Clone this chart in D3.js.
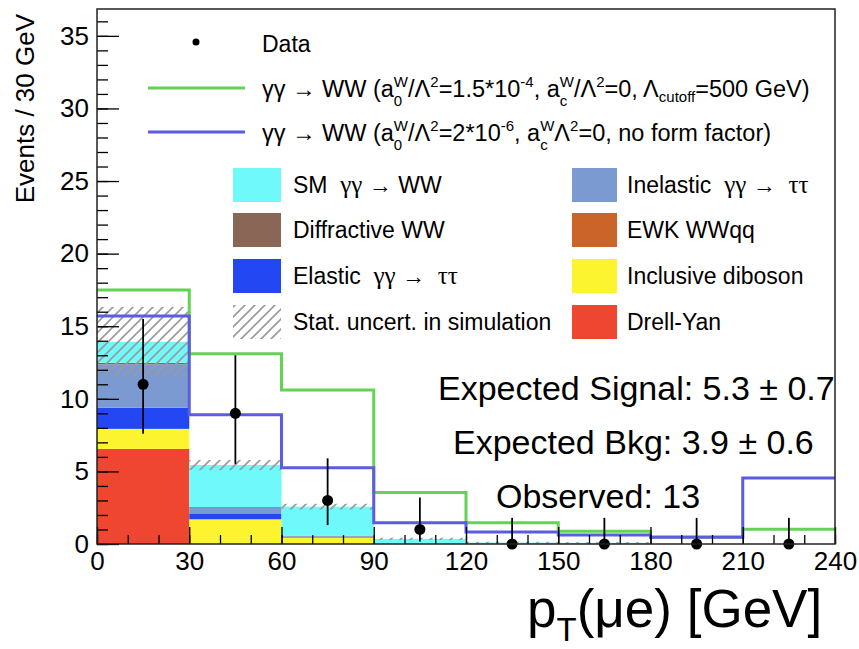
<!DOCTYPE html>
<html lang="en">
<head>
<meta charset="UTF-8">
<style>
  body { margin: 0; background: #fff; }
  text { font-family: "Liberation Sans", Arial, sans-serif; fill: #000; }
</style>
</head>
<body>
<script src="https://d3js.org/d3.v7.min.js"></script>
<script>
// bins of pT(mu e) in GeV
var binEdges = [0, 30, 60, 90, 120, 150, 180, 210, 240]
var xTickValues = [0, 30, 60, 90, 120, 150, 180, 210, 240]
var yTickValues = [0, 5, 10, 15, 20, 25, 30, 35]

// data points with error bar ends
var dataCounts = [11, 9, 3, 1, 0, 0, 0, 0]
var dataErrLow = [7.6, 5.5, 1.3, 0.17, 0, 0, 0, 0]
var dataErrHigh = [15.5, 13.0, 5.9, 3.2, 1.8, 1.8, 1.8, 1.8]

// stacked backgrounds, bottom to top
var drellYan = [6.55, 0, 0, 0, 0, 0, 0, 0]
var diboson = [1.38, 1.70, 0.45, 0, 0, 0, 0, 0]
var elasticTT = [1.45, 0.41, 0.05, 0, 0, 0, 0, 0]
var ewkWWqq = [0, 0, 0, 0, 0, 0, 0, 0]
var inelasticTT = [3.0, 0.39, 0.04, 0, 0, 0, 0, 0]
var diffractiveWW = [0.1, 0.05, 0.02, 0, 0, 0, 0, 0]
var smWW = [1.45, 2.89, 2.01, 0.35, 0.1, 0.08, 0, 0]
var statUnc = [2.4, 0.35, 0.2, 0.08, 0.05, 0.05, 0, 0]

// anomalous coupling signal histograms
var aqgcCutoff = [17.5, 13.1, 10.6, 3.55, 1.47, 0.88, 0.48, 1.02]
var aqgcNoFF = [15.7, 8.9, 5.26, 1.47, 0.83, 0.62, 0.47, 4.55]

var W = 859, H = 649
var svg = d3.select('body').append('svg')
    .attr('width', W)
    .attr('height', H)

var x = d3.scaleLinear().domain([0, 240]).range([97, 835])
var y = d3.scaleLinear().domain([0, 36.85]).range([544, 9])

var colors = {
    drellYan: '#ee4631',
    diboson: '#fcf42e',
    elasticTT: '#2447f4',
    ewkWWqq: '#cb6428',
    inelasticTT: '#7c9ad2',
    diffractiveWW: '#8a6657',
    smWW: '#6ff9fa'
}
var keys = ['drellYan', 'diboson', 'elasticTT', 'ewkWWqq', 'inelasticTT', 'diffractiveWW', 'smWW']
var series = { drellYan: drellYan, diboson: diboson, elasticTT: elasticTT, ewkWWqq: ewkWWqq,
    inelasticTT: inelasticTT, diffractiveWW: diffractiveWW, smWW: smWW }

var rows = binEdges.slice(0, -1).map(function (e, i) {
    var r = { lo: e, hi: binEdges[i + 1] }
    keys.forEach(function (k) { r[k] = series[k][i] })
    return r
})
var stacked = d3.stack().keys(keys)(rows)

// hatch pattern
var defs = svg.append('defs')
defs.append('pattern')
    .attr('id', 'hatch')
    .attr('patternUnits', 'userSpaceOnUse')
    .attr('width', 10).attr('height', 10)
    .append('path')
    .attr('d', 'M-2.5,2.5 l5,-5 M0,10 l10,-10 M7.5,12.5 l5,-5')
    .attr('stroke', '#9a9a9a')
    .attr('stroke-width', 1.6)

// stacked fills
svg.append('g').selectAll('g')
    .data(stacked)
    .join('g')
    .attr('fill', function (d) { return colors[d.key] })
    .selectAll('rect')
    .data(function (d) { return d })
    .join('rect')
    .attr('x', function (d) { return x(d.data.lo) })
    .attr('width', function (d) { return x(d.data.hi) - x(d.data.lo) })
    .attr('y', function (d) { return y(d[1]) })
    .attr('height', function (d) { return y(d[0]) - y(d[1]) })

// stat. uncertainty band
var totals = rows.map(function (r) { return d3.sum(keys, function (k) { return r[k] }) })
svg.append('g').selectAll('rect')
    .data(rows)
    .join('rect')
    .attr('x', function (d) { return x(d.lo) })
    .attr('width', function (d) { return x(d.hi) - x(d.lo) })
    .attr('y', function (d, i) { return y(totals[i] + statUnc[i]) })
    .attr('height', function (d, i) { return y(Math.max(0, totals[i] - statUnc[i])) - y(totals[i] + statUnc[i]) })
    .attr('fill', 'url(#hatch)')

// signal step lines
function stepPoints(vals) {
    var pts = vals.map(function (v, i) { return [binEdges[i], v] })
    pts.push([binEdges[binEdges.length - 1], vals[vals.length - 1]])
    return pts
}
var step = d3.line()
    .x(function (d) { return x(d[0]) })
    .y(function (d) { return y(d[1]) })
    .curve(d3.curveStepAfter)

svg.append('path')
    .attr('d', step(stepPoints(aqgcCutoff)))
    .attr('fill', 'none')
    .attr('stroke', '#63d256')
    .attr('stroke-width', 3)
svg.append('path')
    .attr('d', step(stepPoints(aqgcNoFF)))
    .attr('fill', 'none')
    .attr('stroke', '#5b5be3')
    .attr('stroke-width', 3)

// data points
var centers = rows.map(function (r) { return (r.lo + r.hi) / 2 })
var pts = svg.append('g')
pts.selectAll('line')
    .data(dataCounts)
    .join('line')
    .attr('x1', function (d, i) { return x(centers[i]) })
    .attr('x2', function (d, i) { return x(centers[i]) })
    .attr('y1', function (d, i) { return y(dataErrLow[i]) })
    .attr('y2', function (d, i) { return y(dataErrHigh[i]) })
    .attr('stroke', '#000')
    .attr('stroke-width', 1.8)
pts.selectAll('circle')
    .data(dataCounts)
    .join('circle')
    .attr('cx', function (d, i) { return x(centers[i]) })
    .attr('cy', function (d) { return y(d) })
    .attr('r', 5.5)
    .attr('fill', '#000')

// axes, ticks inside
var yMajor = d3.axisLeft(y).tickValues(yTickValues).tickSize(-22).tickPadding(8).tickSizeOuter(0)
var yMinor = d3.axisLeft(y).tickValues(d3.range(0, 37, 1)).tickSize(-11).tickFormat('').tickSizeOuter(0)
var xMajor = d3.axisBottom(x).tickValues(xTickValues).tickSize(-17).tickPadding(8).tickSizeOuter(0)
var xMinor = d3.axisBottom(x).tickValues(d3.range(0, 241, 10)).tickSize(-9).tickFormat('').tickSizeOuter(0)

function drawAxis(axis, tr) {
    var g = svg.append('g').attr('transform', tr).call(axis)
    g.select('.domain').remove()
    g.selectAll('line').attr('stroke', '#000').attr('stroke-width', 1.3)
    g.selectAll('text').attr('font-size', 26).attr('fill', '#000')
        .style('font-family', '"Liberation Sans", Arial, sans-serif')
    return g
}
drawAxis(yMinor, 'translate(97,0)')
drawAxis(yMajor, 'translate(97,0)')
drawAxis(xMinor, 'translate(0,544)')
drawAxis(xMajor, 'translate(0,544)')

svg.append('rect')
    .attr('x', 97).attr('y', 9)
    .attr('width', 835 - 97).attr('height', 544 - 9)
    .attr('fill', 'none')
    .attr('stroke', '#222')
    .attr('stroke-width', 1.5)

// axis titles
svg.append('text')
    .attr('transform', 'translate(34,14) rotate(-90)')
    .attr('text-anchor', 'end')
    .attr('font-size', 26)
    .text('Events / 30 GeV')

var xt = svg.append('text').attr('x', 527).attr('y', 627).attr('font-size', 53)
xt.append('tspan').text('p')
xt.append('tspan').text('T').attr('font-size', 33).attr('dy', 14)
xt.append('tspan').text('(μe) [GeV]').attr('dy', -14)

// legend
function rich(sel, parts) {
    parts.forEach(function (p) {
        sel.append('tspan').text(p[0])
            .attr('font-size', p[1])
            .attr('dx', p[2] || 0)
            .attr('dy', p[3] || 0)
    })
}
var leg = svg.append('g')
leg.append('circle').attr('cx', 196).attr('cy', 42).attr('r', 3.5).attr('fill', '#000')
leg.append('text').attr('x', 262).attr('y', 52).attr('font-size', 23).text('Data')

leg.append('line').attr('x1', 148).attr('x2', 245).attr('y1', 88).attr('y2', 88)
    .attr('stroke', '#63d256').attr('stroke-width', 3)
leg.append('line').attr('x1', 148).attr('x2', 245).attr('y1', 132).attr('y2', 132)
    .attr('stroke', '#5b5be3').attr('stroke-width', 3)

var fs = 23.5, ss = 15, wW = 14.2
rich(leg.append('text').attr('x', 262).attr('y', 97), [
    ['γγ → WW (a', fs], ['W', ss, 0, -10], ['0', ss, -wW, 19], ['/Λ', fs, wW - 8.3, -9], ['2', ss, 0, -10],
    ['=1.5*10', fs, 0, 10], ['-4', ss, 0, -10], [', a', fs, 0, 10], ['W', ss, 0, -10], ['c', ss, -wW, 19],
    ['/Λ', fs, wW - 7.5, -9], ['2', ss, 0, -10], ['=0, Λ', fs, 0, 10], ['cutoff', ss, 0, 5], ['=500 GeV)', fs, 0, -5]
])
rich(leg.append('text').attr('x', 262).attr('y', 141), [
    ['γγ → WW (a', fs], ['W', ss, 0, -10], ['0', ss, -wW, 19], ['/Λ', fs, wW - 8.3, -9], ['2', ss, 0, -10],
    ['=2*10', fs, 0, 10], ['-6', ss, 0, -10], [', a', fs, 0, 10], ['W', ss, 0, -10], ['c', ss, -wW, 19],
    ['Λ', fs, wW - 7.5, -9], ['2', ss, 0, -10], ['=0, no form factor)', fs, 0, 10]
])

var boxItems = [
    { col: 0, row: 0, fill: colors.smWW, parts: [['SM  ', 0], ['γγ', 1], [' → WW', 0]] },
    { col: 0, row: 1, fill: colors.diffractiveWW, parts: [['Diffractive WW', 0]] },
    { col: 0, row: 2, fill: colors.elasticTT, parts: [['Elastic  ', 0], ['γγ', 1], [' →  ', 0], ['ττ', 1]] },
    { col: 0, row: 3, fill: 'url(#hatch)', parts: [['Stat. uncert. in simulation', 0]] },
    { col: 1, row: 0, fill: colors.inelasticTT, parts: [['Inelastic  ', 0], ['γγ', 1], [' →  ', 0], ['ττ', 1]] },
    { col: 1, row: 1, fill: colors.ewkWWqq, parts: [['EWK WWqq', 0]] },
    { col: 1, row: 2, fill: colors.diboson, parts: [['Inclusive diboson', 0]] },
    { col: 1, row: 3, fill: colors.drellYan, parts: [['Drell-Yan', 0]] }
]
var colX = [233, 572], textX = [293, 627], rowY = [185, 230, 276, 322]
boxItems.forEach(function (it) {
    var cy = rowY[it.row]
    leg.append('rect')
        .attr('x', colX[it.col]).attr('y', cy - 17)
        .attr('width', it.col ? 45 : 48).attr('height', 34)
        .attr('fill', it.fill)
    var t = leg.append('text').attr('x', textX[it.col]).attr('y', cy + 8)
        .attr('font-size', 23).style('white-space', 'pre')
    it.parts.forEach(function (p) {
        var s = t.append('tspan').text(p[0])
        if (p[1]) s.style('font-family', '"Liberation Serif", "Times New Roman", serif').attr('font-size', 25)
    })
})

// summary numbers
var notes = [
    { x: 438, y: 400, t: 'Expected Signal: 5.3 ± 0.7' },
    { x: 453, y: 454, t: 'Expected Bkg: 3.9 ± 0.6' },
    { x: 496, y: 508, t: 'Observed: 13' }
]
svg.append('g').selectAll('text')
    .data(notes)
    .join('text')
    .attr('x', function (d) { return d.x })
    .attr('y', function (d) { return d.y })
    .attr('font-size', 34)
    .text(function (d) { return d.t })
</script>
</body>
</html>
